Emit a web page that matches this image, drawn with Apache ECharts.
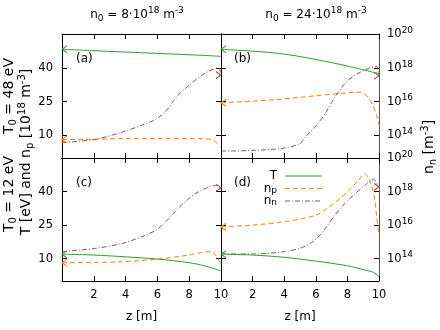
<!DOCTYPE html>
<html>
<head>
<meta charset="utf-8">
<script src="https://cdn.jsdelivr.net/npm/echarts@6/dist/echarts.min.js"></script>
<style>html,body{margin:0;padding:0;background:#fff}#c{width:440px;height:330px}</style>
</head>
<body>
<div id="c"></div>
<script>
// ---- data (z in m, T in eV, n_p in 1e18 m^-3, n_n in m^-3) ----
const xTicks = [0, 2, 4, 6, 8, 10];
const yTicksLeft = [10, 25, 40];
const yTicksRight = [1e14, 1e16, 1e18, 1e20];
const panelLetters = ['(a)', '(b)', '(c)', '(d)'];
const colTitles = ['n_0 = 8·10^18 m^-3', 'n_0 = 24·10^18 m^-3'];
const rowTitles = ['T_0 = 48 eV', 'T_0 = 12 eV'];
const seriesNames = ['T', 'n_p', 'n_n'];

// panel (a): n0 = 8e18, T0 = 48 eV
const a_zT  = [0, 2, 4, 6, 8, 10];
const a_T   = [48.2, 47.6, 47.0, 46.4, 45.8, 45.1];
const a_zNp = [0, 2, 4, 6, 8, 9, 9.5, 10];
const a_Np  = [8.2, 8.3, 8.6, 8.6, 8.6, 8.5, 7.9, 4.9];
const a_zNn = [0, 2.1, 3.8, 5, 5.9, 6.5, 6.9, 7.3, 8, 8.8, 9.4, 9.85, 10];
const a_Nn  = [3.8e13, 5.9e13, 1.6e14, 4.0e14, 8.9e14, 2.5e15, 7.8e15, 2.4e16, 9.4e16, 3.7e17, 7.4e17, 1.0e18, 3.7e17];

// panel (b): n0 = 24e18, T0 = 48 eV
const b_zT  = [0, 2, 4, 6, 8, 10];
const b_T   = [48.2, 47.4, 46.1, 43.7, 40.8, 37.4];
const b_zNp = [0, 2, 4, 6, 8, 8.8, 9.3, 9.6, 9.85, 10];
const b_Np  = [24.5, 25.2, 26.2, 27.6, 28.9, 29.2, 27.1, 23.4, 19.0, 14.5];
const b_zNn = [0, 2, 4, 5, 5.33, 5.96, 6.59, 7.22, 7.85, 8.48, 9.33, 9.85, 10];
const b_Nn  = [1.2e13, 1.3e13, 1.8e13, 3.3e13, 8.1e13, 3.2e14, 2.0e15, 1.9e16, 1.2e17, 3.7e17, 9.1e17, 1.2e18, 3.4e17];

// panel (c): n0 = 8e18, T0 = 12 eV
const c_zT  = [0, 2, 4, 6, 8, 9, 10];
const c_T   = [12.0, 11.6, 10.8, 9.8, 8.2, 6.7, 4.5];
const c_zNp = [0, 2, 3.8, 5.9, 8, 8.8, 9.4, 9.75, 10];
const c_Np  = [8.2, 8.3, 8.6, 9.7, 11.6, 12.8, 13.1, 10.8, 7.1];
const c_zNn = [0, 2.1, 3.8, 5, 5.9, 6.5, 7.1, 7.75, 8.4, 9, 9.65, 10];
const c_Nn  = [2.6e14, 4.1e14, 8.1e14, 2.0e15, 4.9e15, 1.5e16, 6.2e16, 2.5e17, 7.6e17, 1.5e18, 2.3e18, 1.7e18];

// panel (d): n0 = 24e18, T0 = 12 eV
const d_zT  = [0, 2, 4, 6, 8, 9.1, 9.64, 10];
const d_T   = [12.0, 11.6, 10.6, 8.9, 6.8, 4.9, 3.9, 1.9];
const d_zNp = [0, 2, 3.85, 6, 7, 8, 8.7, 9.1, 9.4, 9.7, 9.85, 10];
const d_Np  = [24.2, 25.0, 26.4, 29.4, 33.9, 39.8, 45.0, 48.0, 45.0, 38.0, 29.0, 20.5];
const d_zNn = [0, 2, 4, 5.1, 5.96, 6.6, 7.2, 7.85, 8.5, 9.1, 9.64, 10];
const d_Nn  = [1.9e14, 1.9e14, 2.6e14, 4.5e14, 1.3e15, 6.3e15, 3.9e16, 2.0e17, 7.6e17, 2.3e18, 5.4e18, 1.9e18];

const panels = [
  [a_zT, a_T, a_zNp, a_Np, a_zNn, a_Nn],
  [b_zT, b_T, b_zNp, b_Np, b_zNn, b_Nn],
  [c_zT, c_T, c_zNp, c_Np, c_zNn, c_Nn],
  [d_zT, d_T, d_zNp, d_Np, d_zNn, d_Nn]
];

// ---- styling ----
const F = 'DejaVu Sans';
const FS = 12, FSS = 9, FT = 11.5;
const COL = {T: '#2ca02c', n_p: '#ff7f0e', n_n: '#8c564b'};
const DASH = {T: 'solid', n_p: [5, 3], n_n: [5, 2, 1, 2]};
function makeRich(fs, fss, lh) {
  return {
    b: {fontFamily: F, fontSize: fs, lineHeight: lh, color: '#000'},
    t: {fontFamily: F, fontSize: FT, lineHeight: 16, color: '#000'},
    sup: {fontFamily: F, fontSize: fss, verticalAlign: 'top', color: '#000'},
    sub: {fontFamily: F, fontSize: fss, verticalAlign: 'bottom', color: '#000'}
  };
}
const rich = makeRich(FS, FSS, 17);
const richBig = makeRich(14, 10, 18);
function toRich(s) {
  let out = '';
  const re = /([\^_])([^\s\]]+)|([^\^_]+)/g;
  let m;
  while ((m = re.exec(s))) {
    if (m[3]) out += '{b|' + m[3] + '}';
    else out += '{' + (m[1] === '^' ? 'sup' : 'sub') + '|' + m[2] + '}';
  }
  return out;
}

const grids = [
  {left: 62, top: 34, width: 159, height: 124},
  {left: 221, top: 34, width: 158, height: 124},
  {left: 62, top: 158, width: 159, height: 123},
  {left: 221, top: 158, width: 158, height: 123}
];

const xAxis = [], yAxis = [], series = [];
grids.forEach((g, i) => {
  ['bottom', 'top'].forEach(pos => {
    xAxis.push({
      type: 'value', gridIndex: i, position: pos, min: xTicks[0], max: xTicks[xTicks.length - 1], interval: 2,
      axisLine: {show: true, onZero: false, lineStyle: {color: '#000', width: 1}},
      axisTick: {show: true, inside: true, length: 5, lineStyle: {color: '#000'}},
      axisLabel: {show: pos === 'bottom' && i >= 2, showMinLabel: false, fontFamily: F, fontSize: FT, color: '#000', margin: 8},
      splitLine: {show: false},
      name: pos === 'bottom' && i >= 2 ? 'z [m]' : '', nameLocation: 'middle', nameGap: 30,
      nameTextStyle: {fontFamily: F, fontSize: FS, color: '#000'}
    });
  });
  yAxis.push({
    type: 'value', gridIndex: i, position: 'left', min: 0, max: 55,
    axisLine: {show: true, onZero: false, lineStyle: {color: '#000', width: 1}},
    axisTick: {show: true, inside: true, length: 5, customValues: yTicksLeft, lineStyle: {color: '#000'}},
    axisLabel: {show: i % 2 === 0, customValues: yTicksLeft, fontFamily: F, fontSize: FT, color: '#000', margin: 9},
    splitLine: {show: false}
  });
  yAxis.push({
    type: 'log', logBase: 10, gridIndex: i, position: 'right', min: Math.pow(10, 38 / 3), max: 1e20,
    axisLine: {show: true, onZero: false, lineStyle: {color: i % 2 === 1 ? '#555' : '#000', width: 1}},
    axisTick: {show: true, inside: true, length: 5, customValues: yTicksRight, lineStyle: {color: '#000'}},
    axisLabel: {
      show: i % 2 === 1, customValues: yTicksRight, margin: 8, color: '#000',
      formatter: v => '{t|10}{sup|' + Math.round(Math.log10(v)) + '}',
      rich: rich
    },
    splitLine: {show: false}
  });
  const P = panels[i];
  seriesNames.forEach((nm, k) => {
    const zs = P[2 * k], vs = P[2 * k + 1];
    const isNn = nm === 'n_n';
    const data = zs.map((z, j) => {
      const item = {value: [z, vs[j]]};
      if (!isNn && j === 0) {
        item.symbol = 'path://M6,0L0,4L6,8';
        item.symbolSize = [5, 7];
        item.symbolOffset = [2.5, 0];
        item.itemStyle = {color: 'rgba(0,0,0,0)', borderColor: COL[nm], borderWidth: 1};
      }
      if (isNn && j === zs.length - 1) {
        item.symbol = 'path://M0,0L6,4L0,8';
        item.symbolSize = [5, 7];
        item.symbolOffset = [-2.5, 0];
        item.itemStyle = {color: 'rgba(0,0,0,0)', borderColor: COL[nm], borderWidth: 1};
      }
      return item;
    });
    series.push({
      type: 'line', name: nm, xAxisIndex: 2 * i, yAxisIndex: 2 * i + (isNn ? 1 : 0),
      data: data, symbol: 'none', showSymbol: true, showAllSymbol: true,
      smooth: 0.3, clip: true,
      lineStyle: {color: COL[nm], width: 1, type: DASH[nm]},
      itemStyle: {color: COL[nm]}, z: 3
    });
  });
});

// ---- text graphics ----
const graphic = [];
function txt(x, y, s, opts, r) {
  graphic.push(Object.assign({
    type: 'text', x: x, y: y, silent: true,
    style: {text: toRich(s), rich: r || rich, align: 'center', verticalAlign: 'middle', fill: '#000', font: FS + 'px ' + F}
  }, opts || {}));
}
txt(137, 15, colTitles[0]);
txt(316, 15, colTitles[1]);
txt(9, 96, rowTitles[0], {rotation: Math.PI / 2}, richBig);
txt(9, 194, rowTitles[1], {rotation: Math.PI / 2}, richBig);
txt(26, 152, 'T [eV] and n_p [10^18 m^-3]', {rotation: Math.PI / 2}, richBig);
txt(429, 147, 'n_n [m^-3]', {rotation: Math.PI / 2}, richBig);
const letterPos = [[76, 59], [234, 59], [76, 183], [234, 183]];
panelLetters.forEach((l, i) => {
  graphic.push({type: 'text', x: letterPos[i][0], y: letterPos[i][1], silent: true,
    style: {text: l, align: 'left', verticalAlign: 'middle', fill: '#000', font: FS + 'px ' + F}});
});
// legend inside panel (d)
const legY = [176, 188.5, 201];
seriesNames.forEach((nm, k) => {
  graphic.push({type: 'text', x: 277, y: legY[k], silent: true,
    style: {text: toRich(nm), rich: makeRich(FS, FSS, 13), align: 'right', verticalAlign: 'middle', fill: '#000'}});
  graphic.push({type: 'line', silent: true, shape: {x1: 285, y1: legY[k], x2: 322, y2: legY[k]},
    style: {stroke: COL[nm], lineWidth: 1, lineDash: DASH[nm] === 'solid' ? null : DASH[nm]}});
});

const chart = echarts.init(document.getElementById('c'), null, {renderer: 'canvas'});
chart.setOption({
  animation: false,
  backgroundColor: '#fff',
  grid: grids,
  xAxis: xAxis,
  yAxis: yAxis,
  series: series,
  graphic: graphic
});
</script>
</body>
</html>
